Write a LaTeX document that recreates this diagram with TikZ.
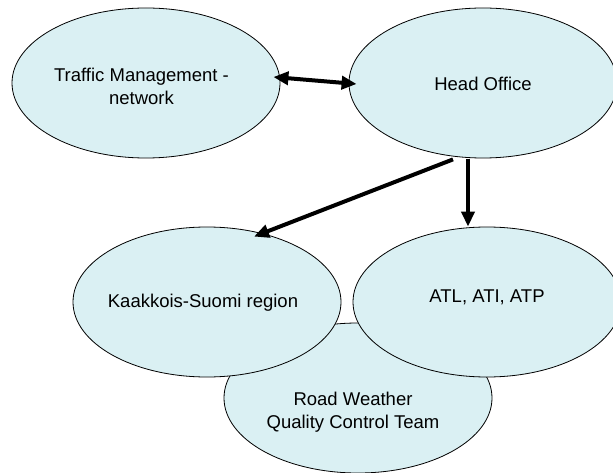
\documentclass[tikz,border=0pt]{standalone}
\usepackage{fontspec}
\setmainfont{Liberation Sans}
\usetikzlibrary{arrows.meta,shapes.geometric}
\definecolor{ellfill}{RGB}{218,240,243}
\tikzset{bigtip/.tip={Triangle[length=15pt,width=13pt]}}
\begin{document}
\begin{tikzpicture}[x=1pt,y=-1pt,
  blob/.style={ellipse,draw=black,line width=0.8pt,fill=ellfill,minimum width=268pt,minimum height=150pt,inner sep=0pt},
  lbl/.style={anchor=base,align=center,inner sep=0pt,font=\fontsize{18.5}{23}\selectfont},
  arr/.style={line width=4pt,-bigtip}]
\useasboundingbox (0,0) rectangle (613,473);
\node[blob] (rw) at (358,398) {};
\node[blob] (kaa) at (207,302) {};
\node[blob] (atl) at (487,302) {};
\node[blob] (trm) at (146,83) {};
\node[blob] (ho) at (483,83) {};
\node[lbl] (trmt) at (141.5,105) {Traffic Management -\\network};
\node[lbl] (hot) at (483,91) {Head Office};
\node[lbl] (kaat) at (203,307) {Kaakkois-Suomi region};
\node[lbl] (atlt) at (487,302) {ATL, ATI, ATP};
\node[lbl] (rwt) at (353,428) {Road Weather\\Quality Control Team};
\draw[line width=4pt,bigtip-bigtip] ([shift={(-7,-6)}]trm.east) -- ([shift={(8,1)}]ho.west);
\draw[arr] ([shift={(-30,1)}]ho.south) -- ([shift={(47,10)}]kaa.north);
\draw[arr] ([shift={(-15,1)}]ho.south) -- ([shift={(-19,0)}]atl.north);
\end{tikzpicture}
\end{document}
